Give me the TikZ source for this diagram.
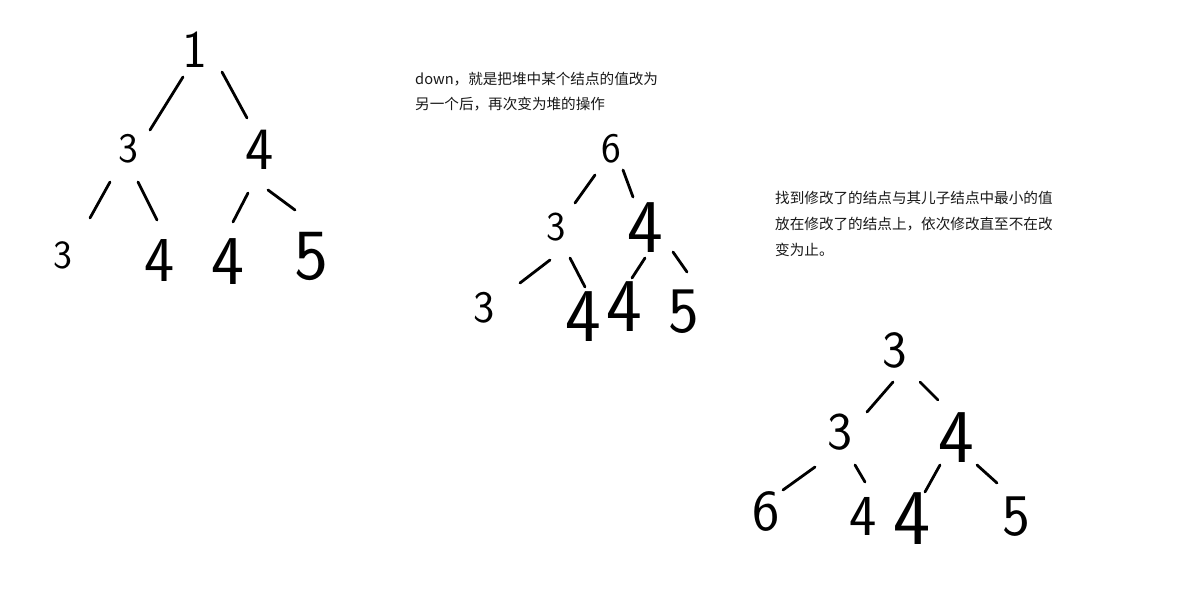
\documentclass[tikz,border=0pt]{standalone}
\usepackage{fontspec}
\newfontfamily\cjk{Noto Sans CJK SC}
\tikzset{
  digit/.style={font=\sffamily\fontsize{#1}{#1}\selectfont, inner sep=0pt, anchor=center},
  edge/.style={line width=2.8pt, line cap=round, black},
  note/.style={font=\cjk\fontsize{14.6}{25}\selectfont, align=left, inner sep=0pt, anchor=north west, text=black!90}
}
\begin{document}
\begin{tikzpicture}[x=1pt, y=-1pt]
\useasboundingbox (0,0) rectangle (1195,604);
\fill[white] (0,0) rectangle (1195,604);

% ---------- Tree 1 ----------
\node[digit=53] (r1) at (195,50) {1};
\node[digit=42] (l1) at (128,149) {3};
\node[digit=60] (m1) at (260,150) {4};
\node[digit=40] (ll1) at (63,255) {3};
\node[digit=64] (lr1) at (160,261) {4};
\node[digit=70] (rl1) at (228,262) {4};
\node[digit=72] (rr1) at (311,256) {5};
\coordinate (a1s) at (183,77);  \coordinate (a1e) at (150,130);
\coordinate (b1s) at (222,72);  \coordinate (b1e) at (247,118);
\coordinate (c1s) at (110,182); \coordinate (c1e) at (90,218);
\coordinate (d1s) at (138,182); \coordinate (d1e) at (157,220);
\coordinate (e1s) at (248,193); \coordinate (e1e) at (233,222);
\coordinate (f1s) at (268,190); \coordinate (f1e) at (295,210);
\foreach \e in {a1,b1,c1,d1,e1,f1} \draw[edge] (\e s) -- (\e e);

% ---------- Text 1 ----------
\node[note] (txt1) at (415,72) {down，就是把堆中某个结点的值改为\\另一个后，再次变为堆的操作};

% ---------- Tree 2 ----------
\node[digit=42] (r2) at (611,149) {6};
\node[digit=41] (l2) at (556,227) {3};
\node[digit=76] (m2) at (645,228) {4};
\node[digit=45] (ll2) at (484,308) {3};
\node[digit=76] (lr2) at (583,317) {4};
\node[digit=76] (rl2) at (624,307) {4};
\node[digit=65] (rr2) at (684,312) {5};
\coordinate (a2s) at (595,175); \coordinate (a2e) at (575,203);
\coordinate (b2s) at (623,170); \coordinate (b2e) at (633,197);
\coordinate (c2s) at (550,260); \coordinate (c2e) at (520,283);
\coordinate (d2s) at (570,258); \coordinate (d2e) at (585,287);
\coordinate (e2s) at (645,258); \coordinate (e2e) at (632,278);
\coordinate (f2s) at (673,252); \coordinate (f2e) at (687,272);
\foreach \e in {a2,b2,c2,d2,e2,f2} \draw[edge] (\e s) -- (\e e);

% ---------- Text 2 ----------
\node[note, font=\cjk\fontsize{14.6}{26}\selectfont] (txt2) at (775,191) {找到修改了的结点与其儿子结点中最小的值\\放在修改了的结点上，依次修改直至不在改\\变为止。};

% ---------- Tree 3 ----------
\node[digit=52] (r3) at (895,350) {3};
\node[digit=53] (l3) at (840,432) {3};
\node[digit=76] (m3) at (956,438) {4};
\node[digit=58] (ll3) at (766,511) {6};
\node[digit=58] (lr3) at (863,516) {4};
\node[digit=79] (rl3) at (912,519) {4};
\node[digit=59] (rr3) at (1016,517) {5};
\coordinate (a3s) at (893,382); \coordinate (a3e) at (867,412);
\coordinate (b3s) at (920,382); \coordinate (b3e) at (938,400);
\coordinate (c3s) at (815,467); \coordinate (c3e) at (783,490);
\coordinate (d3s) at (855,465); \coordinate (d3e) at (865,482);
\coordinate (e3s) at (940,465); \coordinate (e3e) at (925,492);
\coordinate (f3s) at (977,465); \coordinate (f3e) at (997,483);
\foreach \e in {a3,b3,c3,d3,e3,f3} \draw[edge] (\e s) -- (\e e);
\end{tikzpicture}
\end{document}
